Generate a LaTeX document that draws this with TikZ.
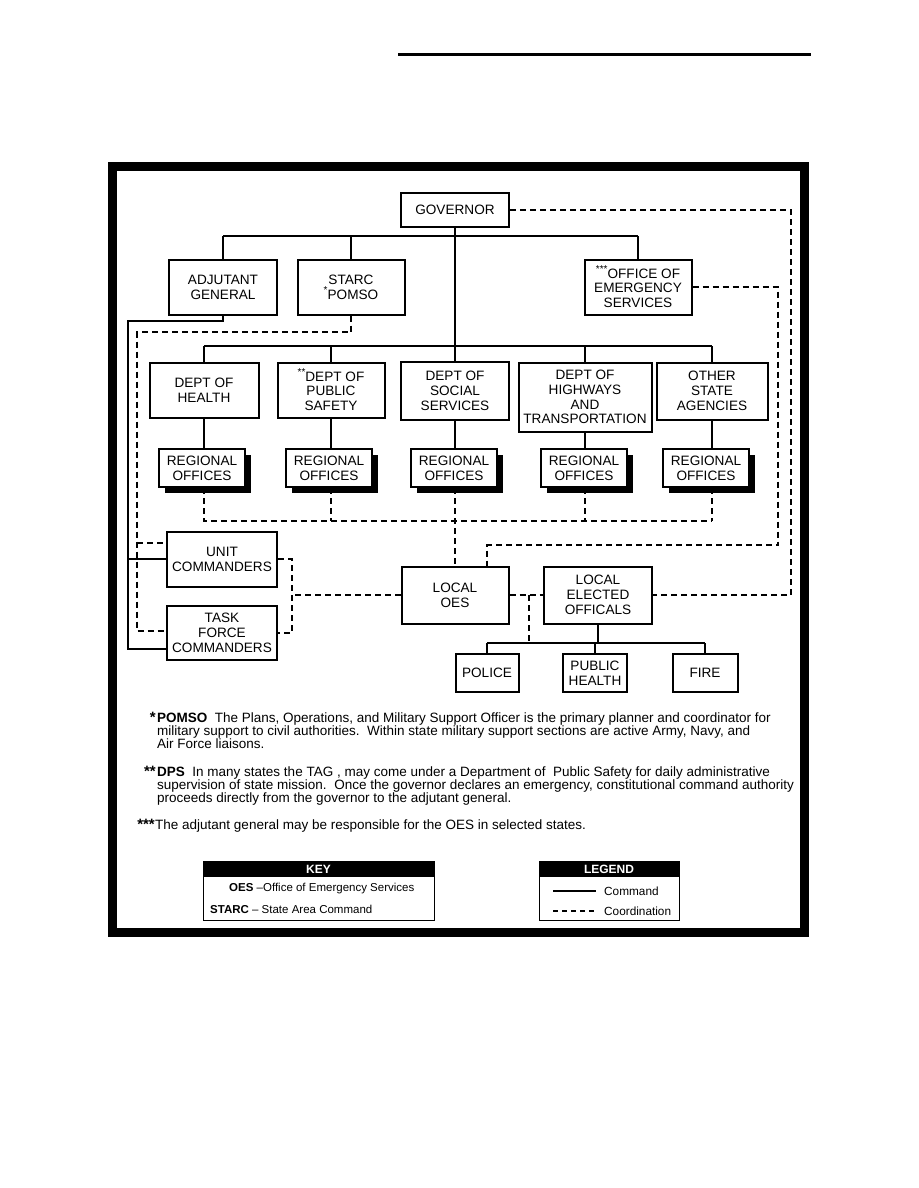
\documentclass[tikz,border=0pt]{standalone}
\usepackage{fontspec}
\setmainfont{Liberation Sans}
\usetikzlibrary{shadows}
\pgfdeclarelayer{bg}
\pgfsetlayers{bg,main}
\newcommand\upstar[1]{\raisebox{0.38em}{\fontsize{10}{10}\selectfont #1}}
\begin{document}
\begin{tikzpicture}[x=1pt,y=-1pt,
  box/.style={draw,line width=2pt,align=center,inner sep=0pt,fill=white,font=\fontsize{13.6}{14.8}\selectfont},
  sz/.style 2 args={minimum width=#1pt,minimum height=#2pt},
  regbox/.style={box,drop shadow={shadow xshift=6pt,shadow yshift=-6pt,fill=black,opacity=1}},
  cmd/.style={line width=2.4pt},
  coord/.style={line width=2.6pt,dash pattern=on 6pt off 4pt},
  note/.style={anchor=north west,align=left,inner sep=0pt,font=\fontsize{13.5}{13}\selectfont},
  star/.style={anchor=north east,inner sep=0pt,font=\bfseries\fontsize{15}{15}\selectfont},
  keytext/.style={anchor=west,inner sep=0pt,font=\fontsize{11.5}{12}\selectfont},
  legtext/.style={anchor=west,inner sep=0pt,font=\fontsize{11.8}{12}\selectfont},
  head/.style={text=white,inner sep=0pt,font=\bfseries\fontsize{12}{12}\selectfont}]
\useasboundingbox (0,0) rectangle (918,1188);

% top rule and frame
\coordinate (r1) at (398,55);
\coordinate (r2) at (811,55);
\draw[line width=3pt] (r1) -- (r2);
\coordinate (f1) at (112.5,166.5);
\coordinate (f2) at (804.5,932.5);
\draw[line width=9pt] (f1) rectangle (f2);

% nodes
\node[box,sz={108}{34}] (gov) at (455,210) {GOVERNOR};
\node[box,sz={108}{55}] (adj) at (223,287) {ADJUTANT\\GENERAL};
\node[box,sz={107}{55}] (starc) at (351,287) {STARC\\\upstar{*}POMSO};
\node[box,sz={107}{55}] (oes) at (638,287) {\upstar{***}OFFICE OF\\EMERGENCY\\SERVICES};

\node[box,sz={109}{55}] (health) at (204,390) {DEPT OF\\HEALTH};
\node[box,sz={107}{55}] (safety) at (331,390) {\upstar{**}DEPT OF\\PUBLIC\\SAFETY};
\node[box,sz={108}{58}] (social) at (455,391) {DEPT OF\\SOCIAL\\SERVICES};
\node[box,sz={133}{69}] (highways) at (585,397) {DEPT OF\\HIGHWAYS\\AND\\TRANSPORTATION};
\node[box,sz={111}{57}] (other) at (712,391) {OTHER\\STATE\\AGENCIES};

\node[regbox,sz={86}{38}] (reg1) at (202,468) {REGIONAL\\OFFICES};
\node[regbox,sz={86}{38}] (reg2) at (329,468) {REGIONAL\\OFFICES};
\node[regbox,sz={86}{38}] (reg3) at (454,468) {REGIONAL\\OFFICES};
\node[regbox,sz={86}{38}] (reg4) at (584,468) {REGIONAL\\OFFICES};
\node[regbox,sz={86}{38}] (reg5) at (706,468) {REGIONAL\\OFFICES};

\node[box,sz={110}{55}] (unit) at (222,559) {UNIT\\COMMANDERS};
\node[box,sz={110}{54}] (task) at (222,633) {TASK\\FORCE\\COMMANDERS};
\node[box,sz={107}{57}] (loes) at (455,595) {LOCAL\\OES};
\node[box,sz={108}{57}] (lelect) at (598,595) {LOCAL\\ELECTED\\OFFICALS};

\node[box,sz={63}{38}] (police) at (487,673) {POLICE};
\node[box,sz={64}{38}] (phealth) at (595,673) {PUBLIC\\HEALTH};
\node[box,sz={65}{38}] (fire) at (705,673) {FIRE};

% coordinates for connectors
\coordinate (tb) at (455,236);
\coordinate (db) at (455,346);
\coordinate (rb) at (455,521);
\coordinate (pb) at (598,643);
\coordinate (aL1) at (128,321);
\coordinate (aL2) at (128,649);
\coordinate (aL3) at (128,559);
\coordinate (sL1) at (137,332);
\coordinate (sL2) at (137,631);
\coordinate (sL3) at (137,543);
\coordinate (gR) at (791,210);
\coordinate (gR2) at (791,595);
\coordinate (oR) at (778,287);
\coordinate (oR2) at (778,545);
\coordinate (oR3) at (487,545);
\coordinate (uR) at (292,559);
\coordinate (tR) at (292,633);
\coordinate (lm) at (292,595);
\coordinate (mid) at (529,595);
\coordinate (mid2) at (529,643);

\begin{pgfonlayer}{bg}
% command lines
\draw[cmd] (gov.south) -- (db);
\draw[cmd] (adj.north |- tb) -- (oes.north |- tb);
\draw[cmd] (adj.north |- tb) -- (adj.north);
\draw[cmd] (starc.north |- tb) -- (starc.north);
\draw[cmd] (oes.north |- tb) -- (oes.north);
\draw[cmd] (health.north |- db) -- (other.north |- db);
\foreach \d in {health,safety,social,highways,other}
  \draw[cmd] (\d.north |- db) -- (\d.north);
\draw[cmd] (health.south) -- (health.south |- reg1.north);
\draw[cmd] (safety.south) -- (safety.south |- reg2.north);
\draw[cmd] (social.south) -- (social.south |- reg3.north);
\draw[cmd] (highways.south) -- (highways.south |- reg4.north);
\draw[cmd] (other.south) -- (other.south |- reg5.north);
\draw[cmd] (adj.south) -- (adj.south |- aL1) -- (aL1) -- (aL2) -- (task.west |- aL2);
\draw[cmd] (aL3) -- (unit.west |- aL3);
\draw[cmd] (lelect.south) -- (pb);
\draw[cmd] (police.north |- pb) -- (fire.north |- pb);
\draw[cmd] (police.north |- pb) -- (police.north);
\draw[cmd] (phealth.north |- pb) -- (phealth.north);
\draw[cmd] (fire.north |- pb) -- (fire.north);

% coordination lines
\draw[coord] (health.south |- reg1.south) -- (health.south |- rb) -- (other.south |- rb);
\draw[coord] (safety.south |- reg2.south) -- (safety.south |- rb);
\draw[coord] (social.south |- reg3.south) -- (loes.north);
\draw[coord] (highways.south |- reg4.south) -- (highways.south |- rb);
\draw[coord] (other.south |- reg5.south) -- (other.south |- rb);
\draw[coord] (starc.south) -- (starc.south |- sL1) -- (sL1) -- (sL2) -- (task.west |- sL2);
\draw[coord] (sL3) -- (unit.west |- sL3);
\draw[coord] (gov.east) -- (gR) -- (gR2) -- (lelect.east);
\draw[coord] (oes.east) -- (oR) -- (oR2) -- (oR3) -- (oR3 |- loes.north);
\draw[coord] (unit.east) -- (uR) -- (tR) -- (task.east);
\draw[coord] (loes.west) -- (lm);
\draw[coord] (loes.east) -- (lelect.west);
\draw[coord] (mid) -- (mid2);
\end{pgfonlayer}

% notes
\node[star] (s1) at (156,712) {*};
\node[note] (n1) at (157,713) {\textbf{POMSO}\ \ The Plans, Operations, and Military Support Officer is the primary planner and coordinator for\\
military support to civil authorities.\ \ Within state military support sections are active Army, Navy, and\\
Air Force liaisons.};
\node[star] (s2) at (156,766) {**};
\node[note] (n2) at (157,767) {\textbf{DPS}\ \ In many states the TAG , may come under a Department of\ \ Public Safety for daily administrative\\
supervision of state mission.\ \ Once the governor declares an emergency, constitutional command authority\\
proceeds directly from the governor to the adjutant general.};
\node[star] (s3) at (155,819) {***};
\node[note] (n3) at (155,820) {The adjutant general may be responsible for the OES in selected states.};

% key
\coordinate (k1) at (203,861);
\coordinate (k2) at (434,920);
\coordinate (k3) at (434,877);
\fill (k1) rectangle (k3);
\draw[line width=1pt] (k1) rectangle (k2);
\node[head] (keyh) at (318.5,869) {KEY};
\node[keytext] (k4) at (229,889) {\textbf{OES} --Office of Emergency Services};
\node[keytext] (k5) at (210,909) {\textbf{STARC} -- State Area Command};

% legend
\coordinate (l1) at (539,861);
\coordinate (l2) at (679,920);
\coordinate (l3) at (679,877);
\fill (l1) rectangle (l3);
\draw[line width=1pt] (l1) rectangle (l2);
\node[head] (legh) at (609,869) {LEGEND};
\coordinate (c1a) at (553,891);
\coordinate (c1b) at (596,891);
\coordinate (c2a) at (553,911);
\coordinate (c2b) at (596,911);
\draw[line width=2pt] (c1a) -- (c1b);
\draw[line width=2.4pt,dash pattern=on 5pt off 4pt] (c2a) -- (c2b);
\node[legtext] (lc1) at (604,891) {Command};
\node[legtext] (lc2) at (604,911) {Coordination};
\end{tikzpicture}
\end{document}
